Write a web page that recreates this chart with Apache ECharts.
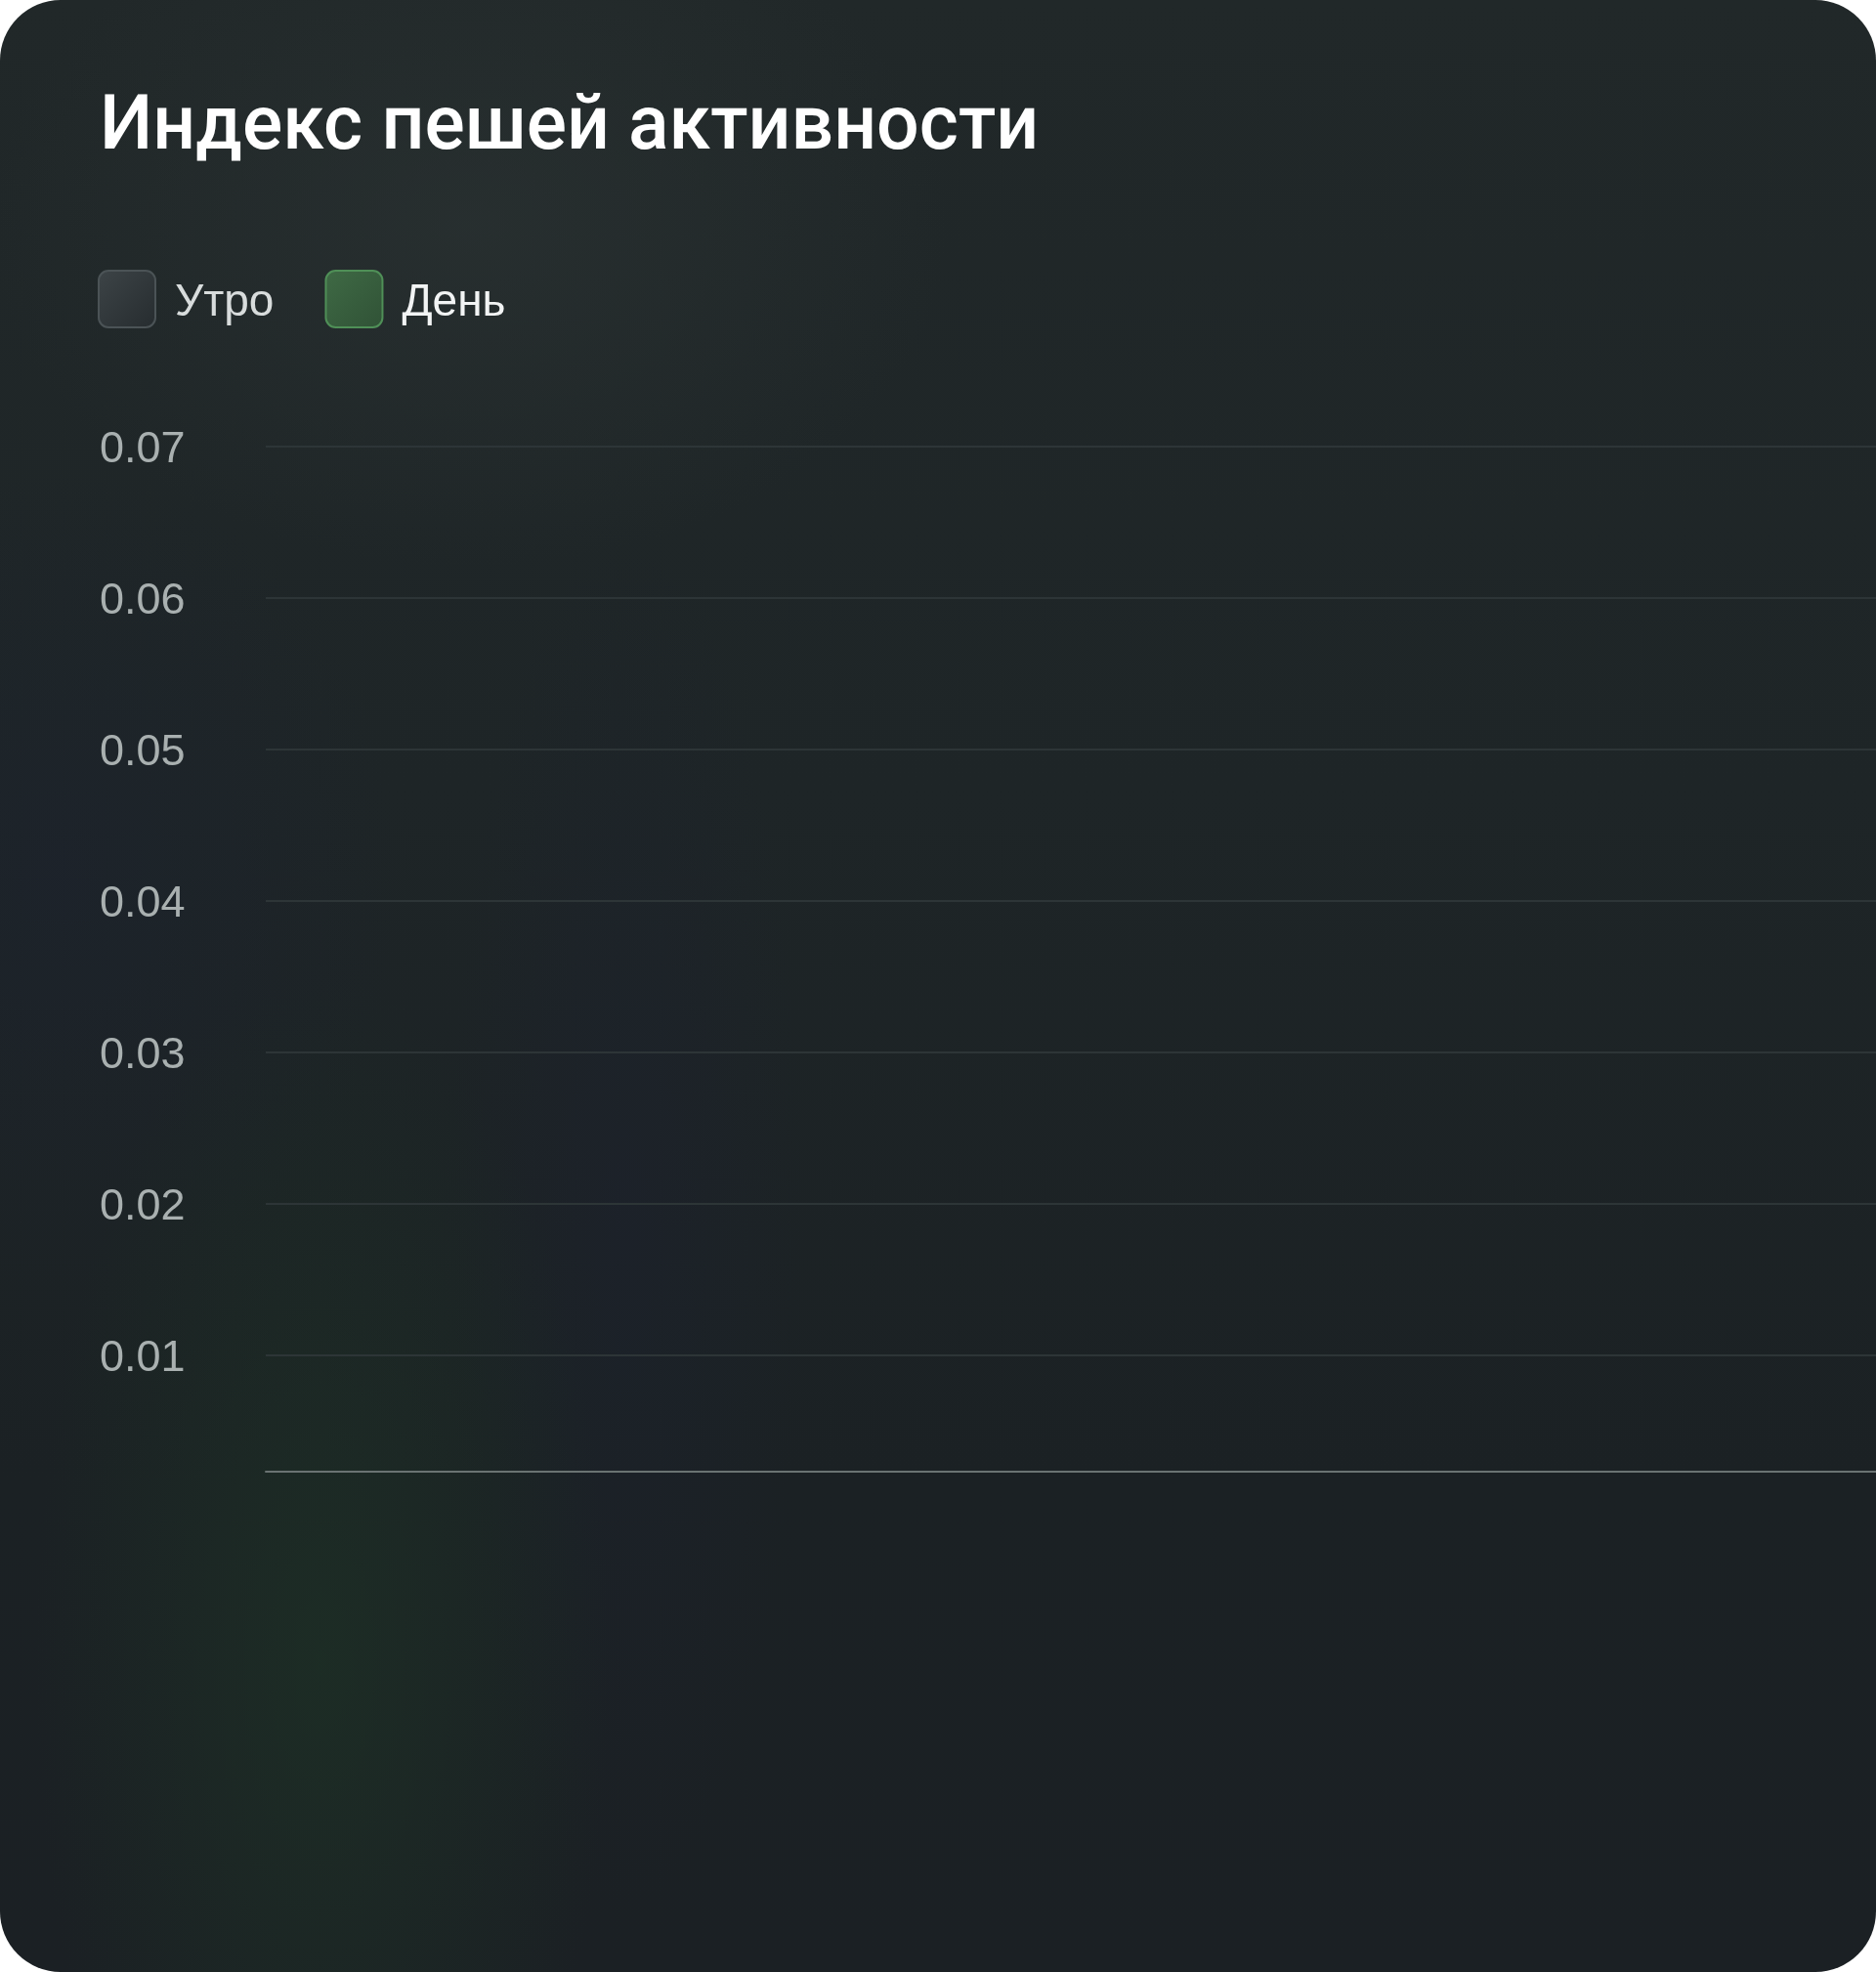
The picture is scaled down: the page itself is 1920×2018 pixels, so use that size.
<!DOCTYPE html>
<html>
<head>
<meta charset="utf-8">
<script src="https://cdn.jsdelivr.net/npm/echarts@6/dist/echarts.min.js"></script>
<style>
  html, body { margin: 0; padding: 0; background: #ffffff; }
  #card {
    position: absolute; left: 0; top: 0; width: 1920px; height: 2018px;
    border-radius: 62px; overflow: hidden;
    background:
      radial-gradient(ellipse 420px 1000px at 330px 1700px, rgba(30,54,38,0.55), rgba(30,54,38,0) 70%),
      radial-gradient(ellipse 700px 500px at 480px 230px, rgba(44,52,52,0.6), rgba(44,52,52,0) 70%),
      radial-gradient(ellipse 500px 600px at 60px 900px, rgba(28,34,44,0.7), rgba(28,34,44,0) 70%),
      radial-gradient(ellipse 260px 1000px at 640px 1250px, rgba(28,33,44,0.6), rgba(28,33,44,0) 70%),
      linear-gradient(180deg, #212829 0%, #1e2527 40%, #1b2124 75%, #1b2024 100%);
  }
  #chart { position: absolute; left: 0; top: 0; width: 1920px; height: 2018px; }
</style>
</head>
<body>
<div id="card"><div id="chart"></div></div>
<script>
// ---- data ----
const titleText = 'Индекс пешей активности';
const seriesNames = ['Утро', 'День'];
const categories = [];
const morningValues = [];
const dayValues = [];
const yMin = 0;
const yMax = 0.07;
const yInterval = 0.01;

const roundIcon = 'path://M10,0H48A10,10,0,0,1,58,10V48A10,10,0,0,1,48,58H10A10,10,0,0,1,0,48V10A10,10,0,0,1,10,0Z';
const morningColor = new echarts.graphic.LinearGradient(0, 0, 1, 1, [
  { offset: 0, color: '#3d4447' }, { offset: 1, color: '#262c2f' }
]);
const dayColor = new echarts.graphic.LinearGradient(0, 0, 1, 1, [
  { offset: 0, color: '#3f6a45' }, { offset: 1, color: '#305236' }
]);

const chart = echarts.init(document.getElementById('chart'), null, { renderer: 'canvas' });
chart.setOption({
  backgroundColor: 'transparent',
  animation: false,
  title: {
    text: titleText,
    left: 97, top: 89,
    textStyle: { color: '#ffffff', fontFamily: 'Roboto', fontWeight: 500, fontSize: 77 }
  },
  legend: {
    left: 95, top: 271,
    itemWidth: 58, itemHeight: 58, itemGap: 52,
    icon: roundIcon,
    formatter: name => '{t|' + name + '}',
    textStyle: {
      color: '#e6e9e9', fontFamily: 'Liberation Sans', fontSize: 46, padding: [0, 0, 0, 15],
      rich: { t: { fontFamily: 'Liberation Sans', fontSize: 46, padding: [8, 0, 0, 0] } }
    },
    data: [
      { name: seriesNames[0], itemStyle: { color: morningColor, borderColor: '#4b5356', borderWidth: 2 }, textStyle: { color: '#d8dcdc' } },
      { name: seriesNames[1], itemStyle: { color: dayColor, borderColor: '#4f8f57', borderWidth: 2 }, textStyle: { color: '#f2f4f4' } }
    ]
  },
  grid: { left: 272, right: 0, top: 457, bottom: 476, containLabel: false },
  xAxis: {
    type: 'category',
    data: categories,
    offset: -36,
    axisLine: { show: true, lineStyle: { color: '#6a7372', width: 2 } },
    axisTick: { show: false },
    axisLabel: { show: false },
    splitLine: { show: false }
  },
  yAxis: {
    type: 'value',
    min: yMin, max: yMax, interval: yInterval,
    axisLine: { show: false },
    axisTick: { show: false },
    axisLabel: {
      showMinLabel: false,
      align: 'left', margin: 170,
      verticalAlign: 'middle',
      color: '#a9b0b0', fontFamily: 'Liberation Sans', fontSize: 45,
      formatter: v => '{v|' + v.toFixed(2) + '}',
      rich: {
        v: { color: '#a9b0b0', fontFamily: 'Liberation Sans', fontSize: 45, padding: [8, 0, 0, 0] }
      }
    },
    splitLine: { show: true, showMinLine: false, lineStyle: { color: '#2d3537', width: 2 } }
  },
  series: [
    { name: seriesNames[0], type: 'bar', data: morningValues, itemStyle: { color: morningColor } },
    { name: seriesNames[1], type: 'bar', data: dayValues, itemStyle: { color: dayColor } }
  ]
});
</script>
</body>
</html>
